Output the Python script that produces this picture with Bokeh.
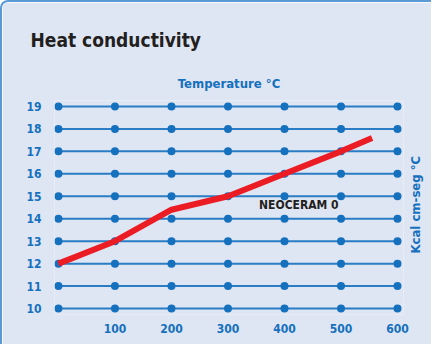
import math
from bokeh.plotting import figure
from bokeh.models import LinearAxis, FixedTicker, Label, Range1d, ColumnDataSource
from bokeh.embed import file_html
from bokeh.resources import INLINE

# ---- data ----
chart_title = "Heat conductivity"
x_title = "Temperature °C"
y_title = "Kcal cm-seg °C"
series_name = "NEOCERAM 0"
grid_temps = [0, 100, 200, 300, 400, 500, 600]
grid_levels = [10, 11, 12, 13, 14, 15, 16, 17, 18, 19]
x_ticks = [100, 200, 300, 400, 500, 600]
temps = [0, 100, 200, 300, 400, 500, 555]
conductivity = [12.0, 13.0, 14.4, 15.0, 16.0, 17.0, 17.6]
label_pos = (355, 14.6)
y_title_start = 12.45

# ---- styles ----
FONT = "DejaVu Sans Condensed"
PANEL = "#dfe6f3"
BLUE = "#1570bd"
LINE_BLUE = "#2a7cc4"
RED = "#ec1c24"
DARK = "#231f20"

p = figure(width=431, height=344, output_backend="svg", toolbar_location=None,
           x_range=Range1d(-7.0, 610.6), y_range=Range1d(9.735, 19.265),
           min_border_left=52, min_border_right=26, min_border_top=98, min_border_bottom=32,
           x_axis_location=None, y_axis_location=None)
p.styles = {"border-left": "2px solid #5b9bd5", "border-top": "2px solid #5b9bd5",
            "border-top-left-radius": "8px", "overflow": "hidden"}
p.background_fill_color = PANEL
p.border_fill_color = PANEL
p.outline_line_color = None
p.grid.visible = False

p.title.text = chart_title
p.title.text_font = FONT
p.title.text_font_size = "19px"
p.title.text_font_style = "bold"
p.title.text_color = DARK
p.title.offset = -24
p.title.standoff = 44

def style_axis(ax):
    ax.axis_line_color = None
    ax.major_tick_line_color = None
    ax.minor_tick_line_color = None
    ax.major_label_text_font = FONT
    ax.major_label_text_font_size = "12px"
    ax.major_label_text_font_style = "bold"
    ax.major_label_text_color = BLUE
    ax.axis_label_text_font = FONT
    ax.axis_label_text_font_style = "bold"
    ax.axis_label_text_color = BLUE
    ax.axis_label_text_font_size = "13px"

xb = LinearAxis(ticker=FixedTicker(ticks=x_ticks))
style_axis(xb)
xb.major_label_standoff = 3
p.add_layout(xb, "below")

yl = LinearAxis(ticker=FixedTicker(ticks=grid_levels))
style_axis(yl)
yl.major_label_standoff = 7
p.add_layout(yl, "left")

xa = LinearAxis(ticker=FixedTicker(ticks=[]), axis_label=x_title)
style_axis(xa)
xa.axis_label_standoff = 10
p.add_layout(xa, "above")

# right-hand title, reading bottom-to-top, drawn as a single rotated tick label
yr = LinearAxis(ticker=FixedTicker(ticks=[y_title_start]),
                major_label_overrides={y_title_start: y_title})
style_axis(yr)
yr.major_label_text_font_size = "13px"
yr.major_label_orientation = math.pi / 2
yr.major_label_standoff = 6
p.add_layout(yr, "right")

# grid lines with dots
p.segment(x0=[grid_temps[0]] * len(grid_levels), x1=[grid_temps[-1]] * len(grid_levels),
          y0=grid_levels, y1=grid_levels, line_color=LINE_BLUE, line_width=2)
gx = [t for lv in grid_levels for t in grid_temps]
gy = [lv for lv in grid_levels for t in grid_temps]
p.scatter(gx, gy, size=8, fill_color=BLUE, line_color=None)

# series
src = ColumnDataSource(dict(x=temps, y=conductivity))
p.line("x", "y", source=src, line_color=RED, line_width=6)

p.add_layout(Label(x=label_pos[0], y=label_pos[1], text=series_name, text_font=FONT,
                   text_font_size="12px", text_font_style="bold", text_color=DARK,
                   text_baseline="middle", text_align="left"))

open("out.html", "w").write(file_html(p, INLINE))
